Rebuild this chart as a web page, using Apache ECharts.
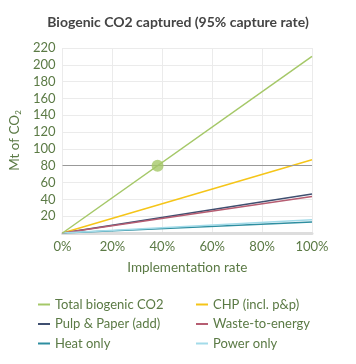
<!DOCTYPE html>
<html><head><meta charset="utf-8">
<script src="https://cdn.jsdelivr.net/npm/echarts@6/dist/echarts.min.js"></script>
<style>html,body{margin:0;padding:0;background:#fff}#c{width:356px;height:364px}</style>
</head><body><div id="c"></div>
<script>
const implementation = [0, 100];
const seriesNames = ['Total biogenic CO2', 'Pulp & Paper (add)', 'Heat only', 'CHP (incl. p&p)', 'Waste-to-energy', 'Power only'];
const totalBiogenic = [0, 210];
const pulpPaper = [0, 46.5];
const heatOnly = [0, 13];
const chp = [0, 87];
const wasteToEnergy = [0, 43.5];
const powerOnly = [0, 15.8];
const targetPoint = [38.1, 80];
const targetLevel = 80;
const colors = ['#a5c868', '#3f4f70', '#2e8ea0', '#f5c518', '#b65d72', '#a3dbe9'];
const valuesList = [totalBiogenic, pulpPaper, heatOnly, chp, wasteToEnergy, powerOnly];

const font = 'Lato, "Noto Sans", sans-serif';
const green = '#5b7a45';
const series = seriesNames.map((n, i) => ({
  name: n, type: 'line', symbol: 'none', color: colors[i],
  lineStyle: { width: 1.5, color: colors[i] },
  data: implementation.map((x, j) => [x, valuesList[i][j]]),
  z: 3 + (i === 0 ? 1 : 0)
}));
series.push({
  name: 'target', type: 'scatter', data: [targetPoint], symbolSize: 12,
  itemStyle: { color: '#a5c868' }, z: 10,
  markLine: {
    silent: true, symbol: 'none', label: { show: false },
    lineStyle: { color: '#999', type: 'solid', width: 1 },
    data: [{ yAxis: targetLevel }]
  }
});
const chart = echarts.init(document.getElementById('c'));
chart.setOption({
  animation: false,
  textStyle: { fontFamily: font },
  title: { text: 'Biogenic CO2 captured (95% capture rate)', left: 'center', top: 10,
    textStyle: { fontFamily: font, fontSize: 14, fontWeight: 'bold', color: '#444' } },
  grid: { left: 53, right: 44, top: 48, bottom: 131, containLabel: false },
  xAxis: { type: 'value', min: 0, max: 100, interval: 20,
    name: 'Implementation rate', nameLocation: 'middle', nameGap: 28,
    nameTextStyle: { color: green, fontSize: 13.5, fontFamily: font },
    axisLine: { show: true, lineStyle: { color: '#ddd', width: 3 } },
    axisTick: { show: false },
    axisLabel: { color: green, fontSize: 13, formatter: v => v + '%', margin: 7 },
    splitLine: { show: true, lineStyle: { color: '#ebebeb' } } },
  yAxis: { type: 'value', min: 0, max: 220, interval: 20,
    name: '{a|Mt of CO}{s|2}', nameLocation: 'middle', nameGap: 37, nameRotate: 90,
    nameTextStyle: { rich: { a: { color: green, fontSize: 13.5, fontFamily: font }, s: { color: green, fontSize: 8, fontFamily: font, verticalAlign: 'bottom', padding: [6, 0, 0, 0] } } },
    axisLine: { show: false }, axisTick: { show: false },
    axisLabel: { color: green, fontSize: 13, margin: 7, formatter: v => v === 0 ? '' : v },
    splitLine: { show: true, lineStyle: { color: '#ebebeb' } } },
  legend: [
    { data: seriesNames.slice(0, 3), orient: 'vertical', left: 33, top: 293, itemGap: 6.5,
      itemWidth: 12, itemHeight: 12, icon: 'path://M0,5 L12,5 L12,7 L0,7 Z',
      textStyle: { color: green, fontSize: 13, fontFamily: font } },
    { data: seriesNames.slice(3), orient: 'vertical', left: 191, top: 293, itemGap: 6.5,
      itemWidth: 12, itemHeight: 12, icon: 'path://M0,5 L12,5 L12,7 L0,7 Z',
      textStyle: { color: green, fontSize: 13, fontFamily: font } }
  ],
  series: series
});
</script></body></html>
